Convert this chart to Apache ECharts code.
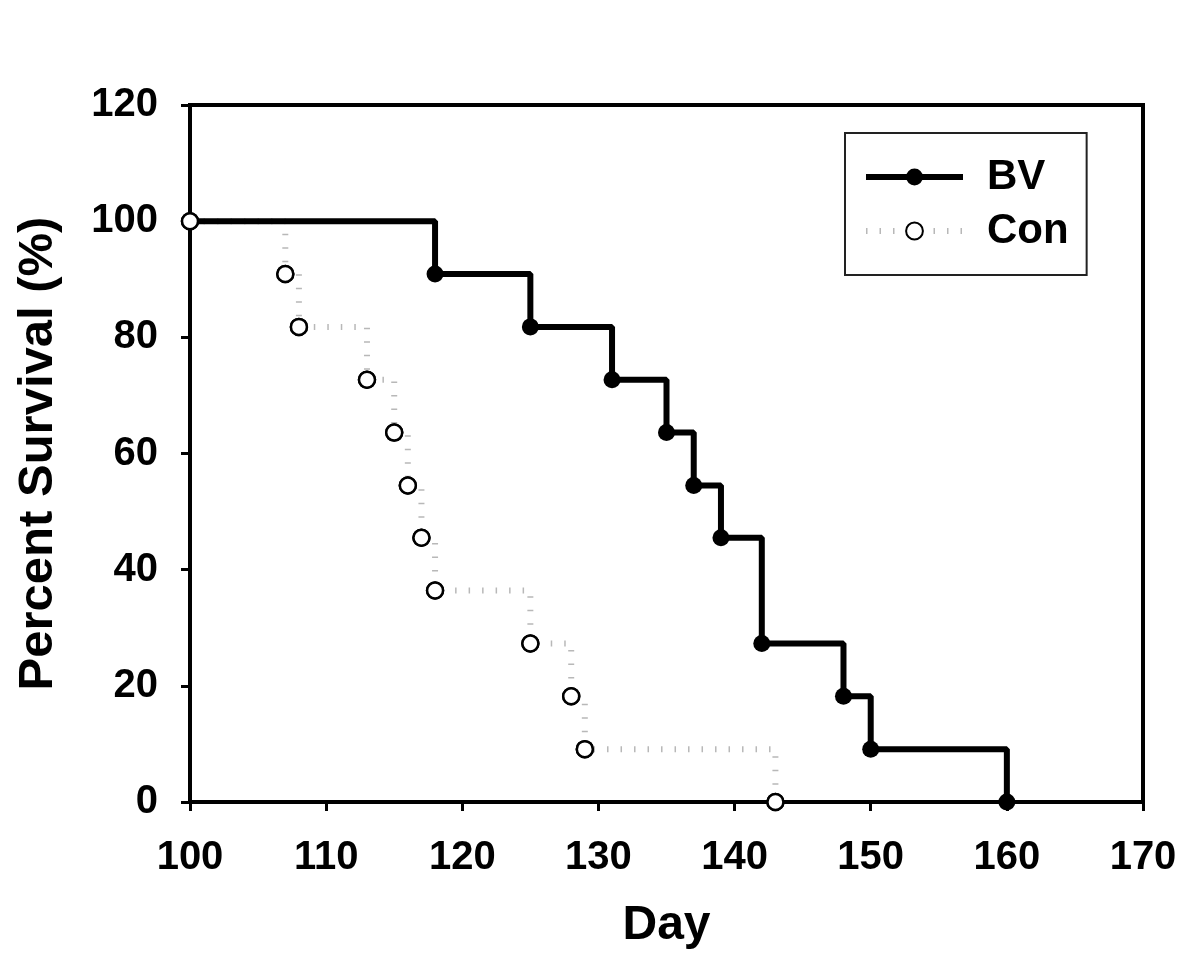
<!DOCTYPE html>
<html>
<head>
<meta charset="utf-8">
<script src="https://cdn.jsdelivr.net/npm/echarts@6/dist/echarts.min.js"></script>
<style>
html,body{margin:0;padding:0;background:#fff;}
#chart{width:1200px;height:975px;}
</style>
</head>
<body>
<div id="chart"></div>
<script>
// Kaplan-Meier survival data (day, percent survival after event)
const bvDays = [100, 118, 125, 131, 135, 137, 139, 142, 148, 150, 160];
const bvSurvival = [100, 90.9, 81.8, 72.7, 63.6, 54.5, 45.5, 27.3, 18.2, 9.1, 0];
const conDays = [100, 107, 108, 113, 115, 116, 117, 118, 125, 128, 129, 143];
const conSurvival = [100, 90.9, 81.8, 72.7, 63.6, 54.5, 45.5, 36.4, 27.3, 18.2, 9.1, 0];
const seriesNames = ['BV', 'Con'];
const xTitle = 'Day';
const yTitle = 'Percent Survival (%)';

const FONT = '"Liberation Sans", Arial, Helvetica, sans-serif';
const chart = echarts.init(document.getElementById('chart'), null, {renderer: 'canvas'});

const bvData = bvDays.map((d, i) => (i === 0 ? {value: [d, bvSurvival[i]], symbol: 'none'} : [d, bvSurvival[i]]));
const conData = conDays.map((d, i) => [d, conSurvival[i]]);

const conLine = {color: '#b8b8b8', width: 6, type: [1.5, 12]};
const bvLine = {color: '#000', width: 6};

const option = {
  backgroundColor: '#ffffff',
  animation: false,
  grid: {
    left: 190, right: 57, top: 105, bottom: 173,
    show: true, borderColor: '#000', borderWidth: 4, backgroundColor: 'transparent'
  },
  legend: {
    orient: 'vertical',
    left: 845, top: 133,
    padding: [22, 18, 22, 18],
    itemGap: 10,
    itemWidth: 97,
    itemHeight: 21,
    borderColor: '#222',
    borderWidth: 2,
    backgroundColor: '#fff',
    data: [
      {name: seriesNames[0], lineStyle: bvLine},
      {name: seriesNames[1], lineStyle: conLine}
    ],
    textStyle: {
      fontFamily: FONT, fontWeight: 'bold', fontSize: 42, color: '#000',
      lineHeight: 44, padding: [0, 0, 0, 19]
    }
  },
  xAxis: {
    type: 'value',
    min: 100, max: 170, interval: 10,
    name: xTitle,
    nameLocation: 'middle',
    nameGap: 100,
    nameTextStyle: {fontFamily: FONT, fontWeight: 'bold', fontSize: 48, color: '#000'},
    axisLine: {show: true, lineStyle: {color: '#000', width: 4}},
    axisTick: {show: true, inside: false, length: 9, lineStyle: {color: '#000', width: 3}},
    axisLabel: {fontFamily: FONT, fontWeight: 'bold', fontSize: 40, color: '#000', margin: 36},
    splitLine: {show: false}
  },
  yAxis: {
    type: 'value',
    min: 0, max: 120, interval: 20,
    name: yTitle,
    nameLocation: 'middle',
    nameGap: 127,
    nameTextStyle: {fontFamily: FONT, fontWeight: 'bold', fontSize: 49, color: '#000'},
    axisLine: {show: true, lineStyle: {color: '#000', width: 4}},
    axisTick: {show: true, inside: false, length: 9, lineStyle: {color: '#000', width: 3}},
    axisLabel: {fontFamily: FONT, fontWeight: 'bold', fontSize: 40, color: '#000', margin: 32},
    splitLine: {show: false}
  },
  series: [
    {
      name: seriesNames[1],
      type: 'line',
      step: 'end',
      data: conData,
      clip: false,
      symbol: 'circle',
      symbolSize: 16,
      showAllSymbol: true,
      itemStyle: {color: '#fff', borderColor: '#000', borderWidth: 2.5},
      lineStyle: conLine,
      z: 3
    },
    {
      name: seriesNames[0],
      type: 'line',
      step: 'end',
      data: bvData,
      clip: false,
      symbol: 'circle',
      symbolSize: 17,
      showAllSymbol: true,
      itemStyle: {color: '#000', borderColor: '#000', borderWidth: 0},
      lineStyle: bvLine,
      z: 4
    },
    {
      name: 'Con markers',
      type: 'scatter',
      data: conData,
      clip: false,
      symbol: 'circle',
      symbolSize: 16,
      itemStyle: {color: '#fff', borderColor: '#000', borderWidth: 2.5, opacity: 1},
      z: 5,
      silent: true
    }
  ]
};
chart.setOption(option);
</script>
</body>
</html>
